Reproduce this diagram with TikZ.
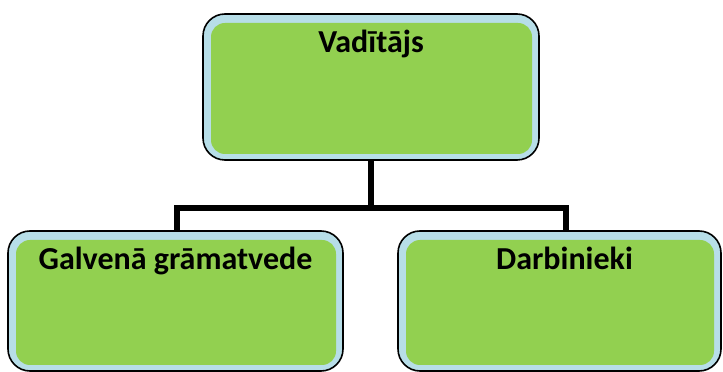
\documentclass[tikz,border=0pt]{standalone}
\usepackage{fontspec}
\setmainfont{Carlito}
\usetikzlibrary{calc}
\definecolor{bandblue}{RGB}{183,222,232}
\definecolor{leafgreen}{RGB}{146,208,80}
\newcommand{\boxradius}{22pt}
\newcommand{\innerradius}{14pt}
\tikzset{
    unit/.style={draw=black, line width=1.6pt, fill=bandblue,
        rounded corners=\boxradius, inner sep=0pt,
        path picture={\fill[leafgreen, rounded corners=\innerradius]
            ([xshift=8pt,yshift=-9pt]path picture bounding box.north west)
            rectangle ([xshift=-7pt,yshift=6pt]path picture bounding box.south east);}},
    title/.style={anchor=base, yshift=-39.5pt, inner sep=0pt,
        font=\bfseries\fontsize{32}{38}\selectfont},
    tie/.style={line width=6pt, black}
}

\begin{document}
\begin{tikzpicture}[x=1pt,y=1pt]
\useasboundingbox (0,0) rectangle (723,372);

% bus coordinates
\coordinate (busL) at (177,164);
\coordinate (busR) at (565.5,164);

% boxes
\node [unit, minimum width=336pt, minimum height=146pt,
    label={[title, name=bosstext]north:Vadītājs}] (boss) at (371,285) {};
\node [unit, minimum width=335pt, minimum height=140pt,
    label={[title, name=chieftext]north:Galvenā grāmatvede}] (chief) at (175.5,71) {};
\node [unit, minimum width=323pt, minimum height=140pt,
    label={[title, xshift=5pt, name=stafftext]north:Darbinieki}] (staff) at (559.5,71) {};

% connectors
\draw [tie] (boss.south) |- (busL) -- (busL |- chief.north);
\draw [tie] (boss.south) |- (busR) -- (busR |- staff.north);

\end{tikzpicture}
\end{document}
